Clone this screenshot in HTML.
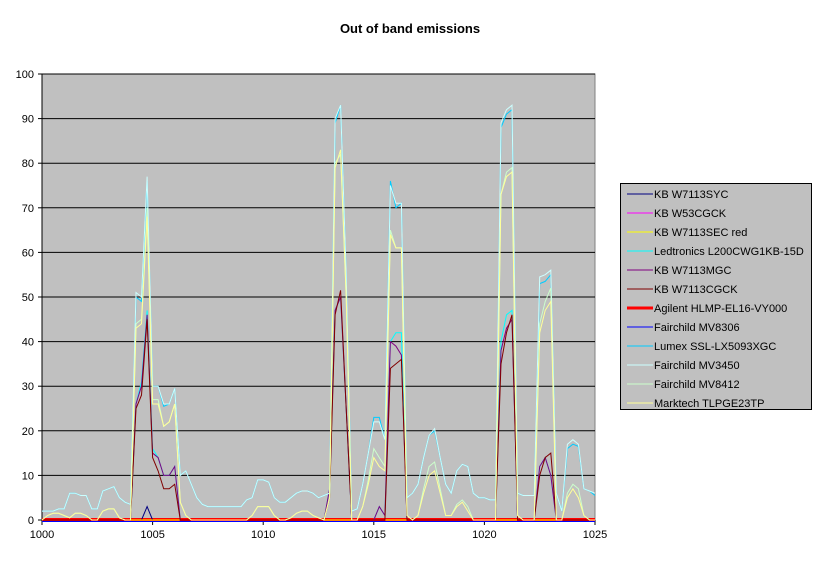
<!DOCTYPE html>
<html><head><meta charset="utf-8"><style>
body{margin:0;background:#fff;font-family:"Liberation Sans",Arial,sans-serif;}
svg text{font-family:"Liberation Sans",Arial,sans-serif;}
</style></head><body>
<svg id="c" width="819" height="559" xmlns="http://www.w3.org/2000/svg">
<text x="410" y="33" text-anchor="middle" font-size="13" font-weight="bold">Out of band emissions</text>
</svg>
<script>
const xStart = 1000, xStep = 0.25;
const xTicks = [1000,1005,1010,1015,1020,1025];
const yTicks = [0,10,20,30,40,50,60,70,80,90,100];
const seriesNames = ["KB W7113SYC","KB W53CGCK","KB W7113SEC red","Ledtronics L200CWG1KB-15D","KB W7113MGC","KB W7113CGCK","Agilent HLMP-EL16-VY000","Fairchild MV8306","Lumex SSL-LX5093XGC","Fairchild MV3450","Fairchild MV8412","Marktech TLPGE23TP"];
const syc = [0,0,0,0,0,0,0,0,0,0,0,0,0,0,0,0,0,0,0,3,0,0,0,0,0,0,0,0,0,0,0,0,0,0,0,0,0,0,0,0,0,0,0,0,0,0,0,0,0,0,0,0,0,0,0,0,0,0,0,0,0,0,0,0,0,0,0,0,0,0,0,0,0,0,0,0,0,0,0,0,0,0,0,0,0,0,0,0,0,0,0,0,0,0,0,0,0,0,0,0,0];
const w53 = [0,0,0,0,0,0,0,0,0,0,0,0,0,0,0,0,0,0,0,0,0,0,0,0,0,0,0,0,0,0,0,0,0,0,0,0,0,0,0,0,0,0,0,0,0,0,0,0,0,0,0,0,0,0,0,0,0,0,0,0,0,0,0,0,0,0,0,0,0,0,0,0,0,0,0,0,0,0,0,0,0,0,0,0,0,0,0,0,0,0,0,0,0,0,0,0,0,0,0,0,0];
const secRed = [0,0,0,0,0,0,0,0,0,0,0,0,0,0,0,0,0,0,0,0,0,0,0,0,0,0,0,0,0,0,0,0,0,0,0,0,0,0,0,0,0,0,0,0,0,0,0,0,0,0,0,0,0,0,0,0,0,0,0,0,0,0,0,0,0,0,0,0,0,0,0,0,0,0,0,0,0,0,0,0,0,0,0,0,0,0,0,0,0,0,0,0,0,0,0,0,0,0,0,0,0];
const ledtronics = [0,0,0,0,0,0,0,0,0,0,0,0,0,0,0,0,0,26,31,47,16,14,10,10,12,0,0,0,0,0,0,0,0,0,0,0,0,0,0,0,0,0,0,0,0,0,0,0,0,0,0,0,7,47,50,25,0,0,0,0,0,3,1,40,42,42,0,0,0,0,0,0,0,0,0,0,0,0,0,0,0,0,0,40,46,47,0,0,0,0,12,14,10,0,0,0,0,0,0,0,0];
const mgc = [0,0,0,0,0,0,0,0,0,0,0,0,0,0,0,0,0,26,30,46,15,14,10,10,12,0,0,0,0,0,0,0,0,0,0,0,0,0,0,0,0,0,0,0,0,0,0,0,0,0,0,0,7,47,50,25,0,0,0,0,0,3,1,40,39,37,0,0,0,0,0,0,0,0,0,0,0,0,0,0,0,0,0,38,43,45,0,0,0,0,12,14,10,0,0,0,0,0,0,0,0];
const cgck = [0,0,0,0,0,0,0,0,0,0,0,0,0,0,0,0,0,25,28,45,14,11,7,7,8,0,0,0,0,0,0,0,0,0,0,0,0,0,0,0,0,0,0,0,0,0,0,0,0,0,0,0,5,46,51.5,25,0,0,0,0,0,0,0,34,35,36,0,0,0,0,0,0,0,0,0,0,0,0,0,0,0,0,0,35,42,46,0,0,0,0,10,14,15,0,0,0,0,0,0,0,0];
const agilent = [0,0,0,0,0,0,0,0,0,0,0,0,0,0,0,0,0,0,0,0,0,0,0,0,0,0,0,0,0,0,0,0,0,0,0,0,0,0,0,0,0,0,0,0,0,0,0,0,0,0,0,0,0,0,0,0,0,0,0,0,0,0,0,0,0,0,0,0,0,0,0,0,0,0,0,0,0,0,0,0,0,0,0,0,0,0,0,0,0,0,0,0,0,0,0,0,0,0,0,0,0];
const mv8306 = [0,0,0,0,0,0,0,0,0,0,0,0,0,0,0,0,0,0,0,0,0,0,0,0,0,0,0,0,0,0,0,0,0,0,0,0,0,0,0,0,0,0,0,0,0,0,0,0,0,0,0,0,0,0,0,0,0,0,0,0,0,0,0,0,0,0,0,0,0,0,0,0,0,0,0,0,0,0,0,0,0,0,0,0,0,0,0,0,0,0,0,0,0,0,0,0,0,0,0,0,0];
const lumex = [2,2,2,2.5,2.5,6,6,5.5,5.5,2.5,2.5,6.5,7,7.5,5,4,3.5,50,49,76,30,30,25.5,26,29.5,10,11,8,5,3.5,3,3,3,3,3,3,3,4.5,5,9,9,8.5,5,4,4,5,6,6.5,6.5,6,5,5.5,6,89,93,55,2,2.5,8,15,23,23,18,76,70,71,5,6,8,14,19,20,14,8,6,11,12.5,12,6,5,5,4.5,4.5,88,91,92,6,5.5,5.5,5.5,53,53.5,55,6,2,16,17,16.5,7,6.5,5.5];
const mv3450 = [2,2,2,2.5,2.5,6,6,5.5,5.5,2.5,2.5,6.5,7,7.5,5,4,3.5,51,50,77,30,30,26,26,29.5,10,11,8,5,3.5,3,3,3,3,3,3,3,4.5,5,9,9,8.5,5,4,4,5,6,6.5,6.5,6,5,5.5,6,90,93,55,2,2.5,8,15,22,22,18,75,71,71,5,6,8,14,19,20.5,14,8,6,11,12.5,12,6,5,5,4.5,4.5,89,92,93,6,5.5,5.5,5.5,54.5,55,56,6,2,17,18,17,7,6.5,6];
const mv8412 = [0,1,1.5,1.5,1,0.5,1.5,1.5,1,0,0,2,2.5,2.5,0.5,0,0,44,45,70,27,27,21,22,26,4,1,0,0,0,0,0,0,0,0,0,0,0,1,3,3,3,1,0,0,0.5,1.5,2,2,1,0.5,0,5,80,82,50,0,0,3,9,16,14,12,65,61,61,1,0,1,7,12,13,7,1,1,3.5,4.5,3,0,0,0,0,0,73,78,79,1,0,0,0,44,49,52,0,0,6,8,7,1,0,0];
const marktech = [0,1,1.5,1.5,1,0.5,1.5,1.5,1,0,0,2,2.5,2.5,0.5,0,0,43,44,68,26,26,21,22,26,4,1,0,0,0,0,0,0,0,0,0,0,0,1,3,3,3,1,0,0,0.5,1.5,2,2,1,0.5,0,5,79,83,50,0,0,3,8,14,12,11,64,61,61,1,0,1,6,10,11,6,1,1,3,4,2,0,0,0,0,0,73,77,78,1,0,0,0,42,47,49,0,0,5,7,5,1,0,0];

const X0=42,X1=595,Y0=520,Y1=74;
const sx=v=>X0+(v-1000)/(1025-1000)*(X1-X0);
const sy=v=>Y0-(v-0)/(100-0)*(Y0-Y1);
const NS="http://www.w3.org/2000/svg";
const svg=document.getElementById('c');
function mk(tag,attrs,parent){const e=document.createElementNS(NS,tag);for(const k in attrs)e.setAttribute(k,attrs[k]);(parent||svg).appendChild(e);return e;}

const plot=mk('rect',{x:X0,y:Y1,width:X1-X0,height:Y0-Y1,fill:'#c0c0c0',stroke:'#808080','stroke-width':1});



yTicks.forEach(t=>{
  if(t>0){const g=mk('line',{x1:X0,x2:X1,y1:sy(t),y2:sy(t),stroke:'#000','stroke-width':1});
  
  }
  const tk=mk('line',{x1:X0-4,x2:X0,y1:sy(t),y2:sy(t),stroke:'#000'});
  
  
  const tx=mk('text',{x:X0-8,y:sy(t)+4,'text-anchor':'end','font-size':11});
  tx.textContent=t;
  
  
});
const ax=mk('line',{x1:X0,x2:X0,y1:Y1,y2:Y0,stroke:'#000'});


const bx=mk('line',{x1:X0,x2:X1,y1:Y0,y2:Y0,stroke:'#000'});


xTicks.forEach(t=>{
  const tk=mk('line',{x1:sx(t),x2:sx(t),y1:Y0,y2:Y0+5,stroke:'#000'});
  
  
  const tx=mk('text',{x:sx(t),y:Y0+18,'text-anchor':'middle','font-size':11});
  tx.textContent=t;
  
  
});

const seriesData=[syc,w53,secRed,ledtronics,mgc,cgck,agilent,mv8306,lumex,mv3450,mv8412,marktech];
const colors=['#000080','#ff00ff','#ffff00','#00ffff','#800080','#800000','#ff0000','#0000ff','#00ccff','#ccffff','#ccffcc','#ffff99'];
const widths=[1,1,1,1,1,1,4,1,1,1,1,1];
const order=[6,7,0,1,2,3,4,5,8,9,10,11];
order.forEach(k=>{
  const d=seriesData[k];
  const pts=d.map((v,i)=>sx(xStart+i*xStep).toFixed(1)+','+(sy(v)+(k===7?1.5:0)).toFixed(1)).join(' ');
  const pl=mk('polyline',{points:pts,fill:'none',stroke:colors[k],'stroke-width':widths[k],'stroke-linejoin':'miter'});
  
  
});

const lg=mk('g',{});


mk('rect',{x:620.5,y:183.5,width:191,height:226,fill:'#c0c0c0',stroke:'#000','stroke-width':1},lg);
seriesNames.forEach((n,i)=>{
  const y=194+i*19;
  const ent=mk('g',{},lg);
  
  
  mk('line',{x1:627,x2:653,y1:y,y2:y,stroke:colors[i],'stroke-width':widths[i]===4?3:1},ent);
  const t=mk('text',{x:654,y:y+4,'font-size':11},ent);
  t.textContent=n;
});
</script>
</body></html>
